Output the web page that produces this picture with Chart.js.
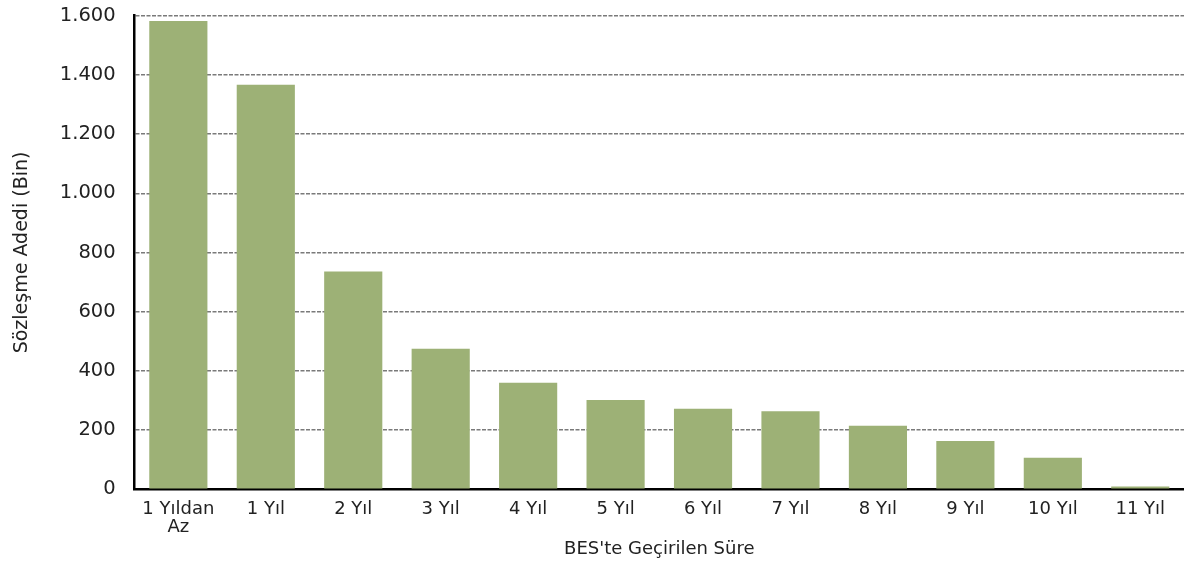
<!DOCTYPE html>
<html>
<head>
<meta charset="utf-8">
<script src="https://cdn.jsdelivr.net/npm/chart.js@4/dist/chart.umd.min.js"></script>
<style>
  html, body { margin: 0; padding: 0; background: #fff; }
  #wrap { width: 1184px; height: 563px; position: relative; }
</style>
</head>
<body>
<div id="wrap"><canvas id="c"></canvas></div>
<script>
const categories = [["1 Yıldan", "Az"], "1 Yıl", "2 Yıl", "3 Yıl", "4 Yıl", "5 Yıl", "6 Yıl", "7 Yıl", "8 Yıl", "9 Yıl", "10 Yıl", "11 Yıl"];
const contracts = [1582, 1367, 736, 475, 360, 301, 272, 263, 214, 163, 106, 9];
const yTicks = [0, 200, 400, 600, 800, 1000, 1200, 1400, 1600];
const xTitle = "BES'te Geçirilen Süre";
const yTitle = "Sözleşme Adedi (Bin)";

const FONT = "'DejaVu Sans', Verdana, sans-serif";

new Chart(document.getElementById('c'), {
  type: 'bar',
  data: {
    labels: categories,
    datasets: [{
      data: contracts,
      backgroundColor: '#9db176',
      borderWidth: 0,
      categoryPercentage: 1.0,
      barPercentage: 0.665
    }]
  },
  options: {
    responsive: true,
    maintainAspectRatio: false,
    animation: false,
    layout: { padding: { top: 0, right: 0, left: 11, bottom: 3 } },
    plugins: { legend: { display: false }, tooltip: { enabled: false } },
    scales: {
      x: {
        grid: { display: false, drawTicks: false },
        border: { display: true, color: '#000', width: 2.5 },
        ticks: {
          color: '#222',
          font: { family: FONT, size: 18, lineHeight: 0.95 },
          padding: 12,
          maxRotation: 0,
          autoSkip: false
        },
        title: {
          display: true,
          text: xTitle,
          color: '#222',
          font: { family: FONT, size: 18 },
          padding: { top: -9, bottom: 0 }
        }
      },
      y: {
        min: 0,
        max: 1600,
        afterBuildTicks: (axis) => { axis.ticks = yTicks.map(v => ({ value: v })); },
        grid: {
          color: (ctx) => ctx.tick && ctx.tick.value === 0 ? 'rgba(0,0,0,0)' : '#7a7a7a',
          lineWidth: 1.5,
          drawTicks: true,
          tickLength: 15,
          tickColor: 'rgba(0,0,0,0)'
        },
        border: { display: true, color: '#000', width: 2.5, dash: [4, 1.5] },
        ticks: {
          color: '#222',
          font: { family: FONT, size: 19.5 },
          padding: 4,
          callback: (v) => v.toLocaleString('de-DE')
        },
        title: {
          display: true,
          text: yTitle,
          color: '#222',
          font: { family: FONT, size: 19 },
          padding: { top: 0, bottom: 22 }
        }
      }
    }
  }
});
</script>
</body>
</html>
